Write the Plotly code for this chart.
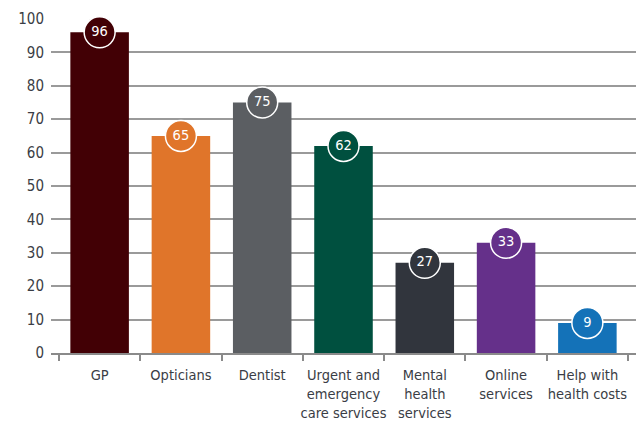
import plotly.graph_objects as go

categories = ["GP", "Opticians", "Dentist", "Urgent and<br>emergency<br>care services",
              "Mental<br>health<br>services", "Online<br>services", "Help with<br>health costs"]
values = [96, 65, 75, 62, 27, 33, 9]
colors = ["#420005", "#E0752A", "#5B5E62", "#00503F", "#31353D", "#65308A", "#1472B8"]
y_ticks = [0, 10, 20, 30, 40, 50, 60, 70, 80, 90, 100]

FONT = "DejaVu Sans Condensed, Liberation Sans Narrow, sans-serif"
TXT = "#3a3d45"

fig = go.Figure()
fig.add_trace(go.Bar(x=categories, y=values, marker=dict(color=colors, line=dict(width=0)),
                     hoverinfo="skip"))
fig.add_trace(go.Scatter(x=categories, y=values, mode="markers+text",
                         text=[str(v) for v in values], textposition="middle center",
                         textfont=dict(color="white", size=14.5, family=FONT),
                         marker=dict(size=31, color=colors, line=dict(color="white", width=1.5)),
                         cliponaxis=False, hoverinfo="skip"))

fig.update_layout(
    width=639, height=424,
    margin=dict(l=51, r=3, t=19, b=71, autoexpand=False),
    paper_bgcolor="white", plot_bgcolor="white",
    showlegend=False, bargap=0.28,
    font=dict(family=FONT, color=TXT, size=14),
)
fig.update_xaxes(type="category", tickson="boundaries", ticks="outside", ticklen=6,
                 tickcolor="#8a8a8a", tickwidth=1.5, showline=True, linecolor="#8a8a8a",
                 linewidth=1.5, showgrid=False, tickangle=0, automargin=False,
                 tickfont=dict(size=14.5, color=TXT, family=FONT), ticklabelstandoff=8)
fig.update_yaxes(range=[0, 100], tickvals=y_ticks, showgrid=True, gridcolor="#9a9a9a",
                 gridwidth=1.5, zeroline=False, showline=False, ticks="", automargin=False,
                 tickfont=dict(size=15, color=TXT, family=FONT), ticklabelstandoff=6)

fig.write_html("out.html", config={"displayModeBar": False},
               post_script="document.body.style.margin='0';document.body.style.overflow='hidden';")
